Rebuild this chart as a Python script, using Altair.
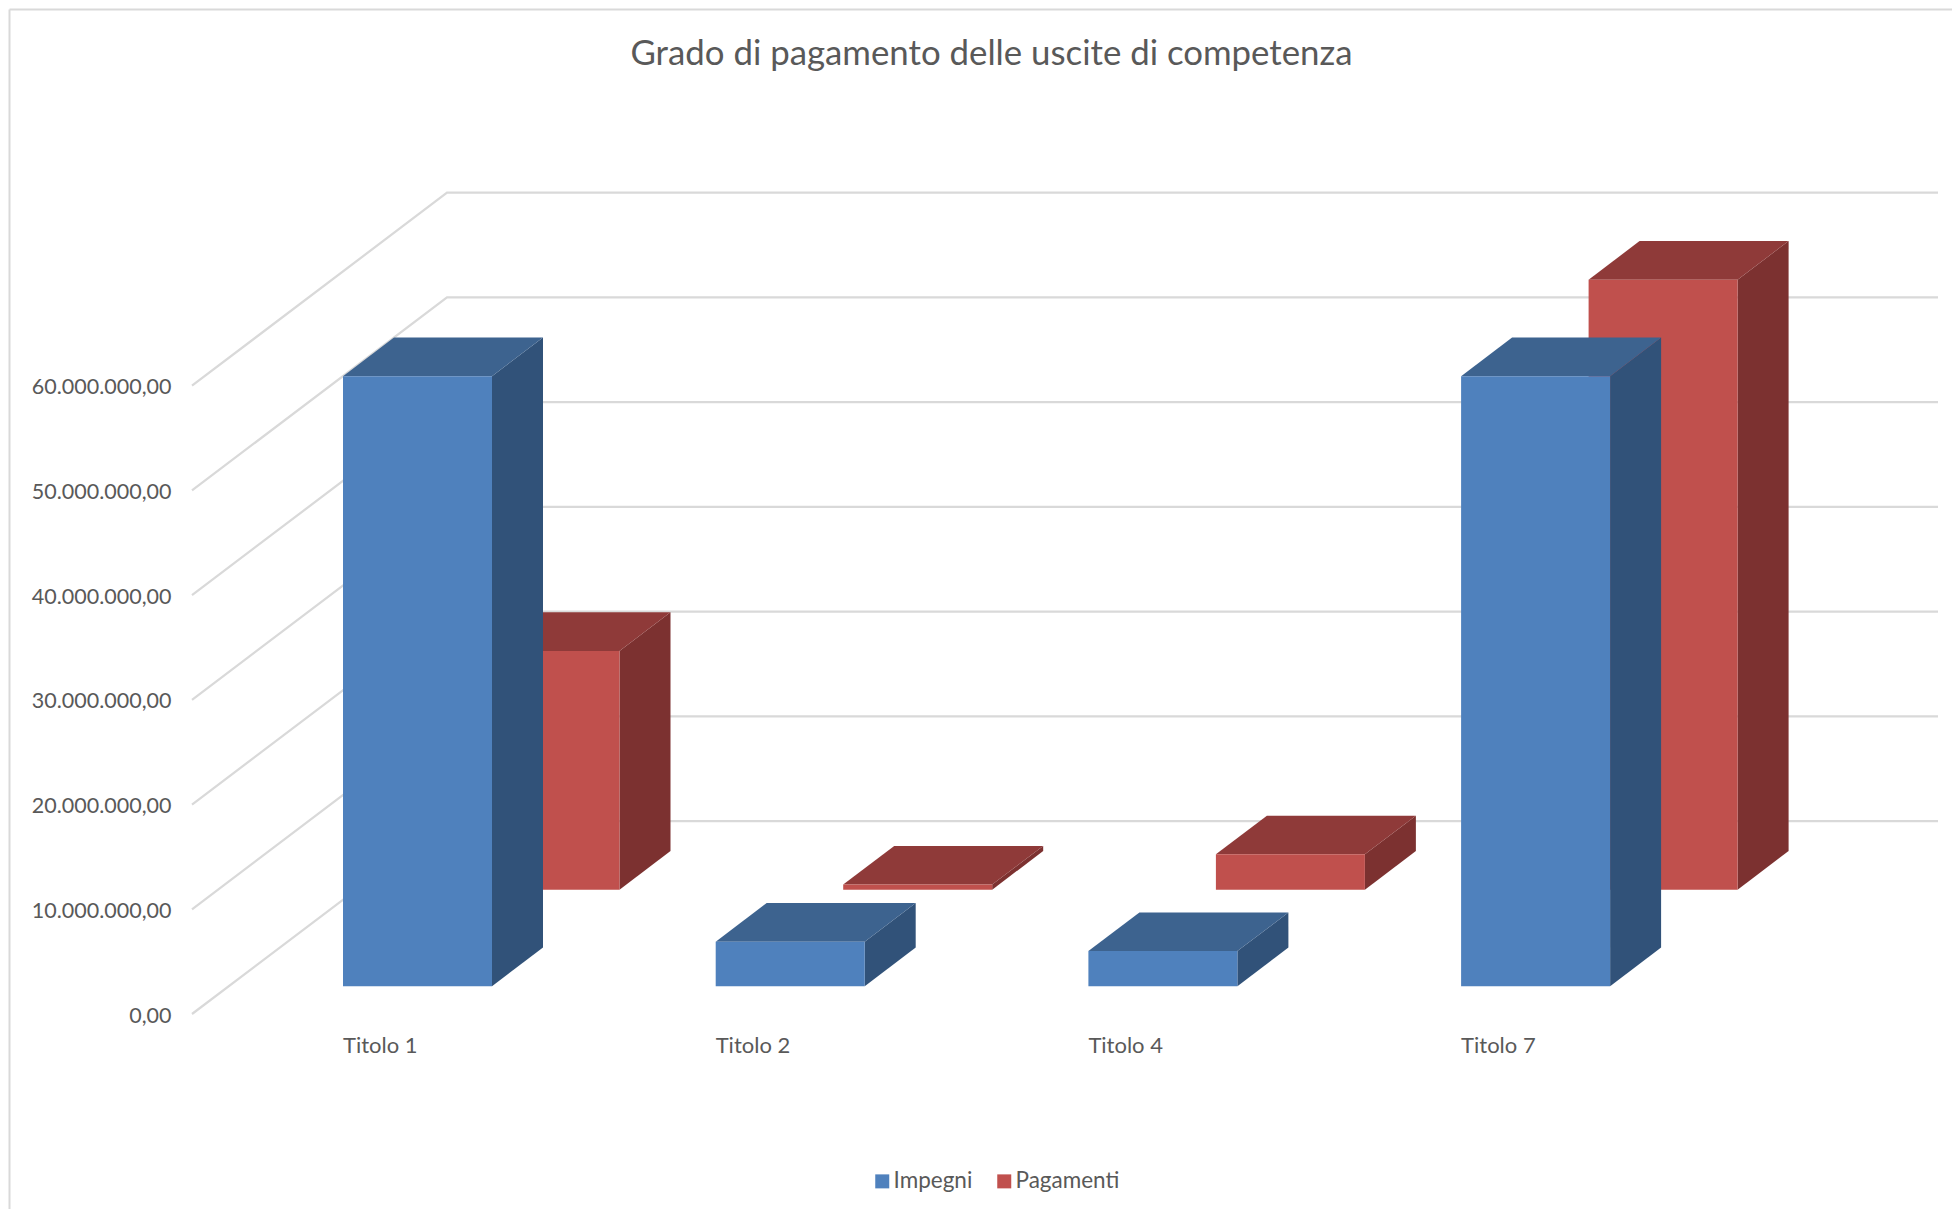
import altair as alt
import pandas as pd

categories = ["Titolo 1", "Titolo 2", "Titolo 4", "Titolo 7"]
impegni = [58250000, 4250000, 3350000, 58250000]
pagamenti = [22800000, 480000, 3370000, 58250000]
tick_values = [0, 10000000, 20000000, 30000000, 40000000, 50000000, 60000000]
title_text = "Grado di pagamento delle uscite di competenza"

FONT = "Lato"
TEXT = "#595959"
GRID = "#D9D9D9"
FRONT = {"Impegni": "#4F81BD", "Pagamenti": "#C0504D"}
TOP = {"Impegni": "#3D638F", "Pagamenti": "#8F3A39"}
SIDE = {"Impegni": "#315279", "Pagamenti": "#7C3130"}

# Oblique projection: category units across, euros up, depth 0..1 into the box
PX_CAT = 372.7
PX_10M = 104.72
DEPTH_X = 255 / PX_CAT
DEPTH_Y = 193 / PX_10M * 1e7
BAR_W = 149 / PX_CAT
BAR_D = 0.2
Z = {"Impegni": 0.15, "Pagamenti": 0.65}
BAR_DROP = 1.1 / PX_10M * 1e7

# Plot area on the page
LEFT, TOP_Y, W, H = 181, 104, 1757, 1000
ORIGIN_X, ZERO_Y = 304.75, 1014
x_dom = [(LEFT - ORIGIN_X) / PX_CAT, (LEFT + W - ORIGIN_X) / PX_CAT]
y_dom = [(ZERO_Y - (TOP_Y + H)) / PX_10M * 1e7, (ZERO_Y - TOP_Y) / PX_10M * 1e7]
xs = alt.Scale(domain=x_dom, nice=False, zero=False)
ys = alt.Scale(domain=y_dom, nice=False, zero=False)

y_axis = alt.Axis(
    title=None,
    values=tick_values,
    domain=False,
    ticks=False,
    grid=False,
    labelPadding=10,
    labelOffset=2,
    labelFont=FONT,
    labelFontSize=21.5,
    labelColor=TEXT,
    labelExpr="replace(replace(replace(format(datum.value, ',.2f'), '.', '#'), regexp(',', 'g'), '.'), '#', ',')",
)


def X(field):
    return alt.X(f"{field}:Q", scale=xs, axis=None)


def Y(field):
    return alt.Y(f"{field}:Q", scale=ys, axis=y_axis)


# Wall and floor gridlines
grid_left = (192 - ORIGIN_X) / PX_CAT
grid_rows = []
for v in tick_values:
    grid_rows += [
        {"id": v, "x": grid_left, "y": v},
        {"id": v, "x": grid_left + DEPTH_X, "y": v + DEPTH_Y},
        {"id": v, "x": x_dom[1], "y": v + DEPTH_Y},
    ]
grid = alt.Chart(pd.DataFrame(grid_rows)).mark_line(color=GRID, strokeWidth=2.25).encode(
    x=X("x"), y=Y("y"), detail="id:N"
)

layers = [grid]
color_enc = alt.Color(
    "serie:N",
    scale=alt.Scale(domain=list(FRONT), range=list(FRONT.values())),
    legend=alt.Legend(
        title=None,
        orient="none",
        legendX=690,
        legendY=1066,
        direction="horizontal",
        symbolType="square",
        symbolSize=196,
        symbolStrokeWidth=0,
        symbolOpacity=1,
        labelFont=FONT,
        labelFontSize=22.5,
        labelColor=TEXT,
        labelOffset=0,
        columnPadding=20,
        padding=0,
    ),
)

for serie, values in [("Pagamenti", pagamenti), ("Impegni", impegni)]:
    z = Z[serie]
    front, side, top = [], [], []
    for i, v in enumerate(values):
        x0 = i + z * DEPTH_X
        x1 = x0 + BAR_W
        base = z * DEPTH_Y - BAR_DROP
        front.append({"serie": serie, "x": x0, "x2": x1, "y": base, "y2": base + v})
        dx, dy = BAR_D * DEPTH_X, BAR_D * DEPTH_Y
        side += [
            {"id": i, "x": x1, "y": base, "y2": base + v},
            {"id": i, "x": x1 + dx, "y": base + dy, "y2": base + v + dy},
        ]
        top += [
            {"id": i, "y": base + v, "x": x0, "x2": x1},
            {"id": i, "y": base + v + dy, "x": x0 + dx, "x2": x1 + dx},
        ]
    layers.append(
        alt.Chart(pd.DataFrame(side)).mark_area(color=SIDE[serie]).encode(
            x=X("x"), y=Y("y"), y2="y2:Q", detail="id:N"
        )
    )
    layers.append(
        alt.Chart(pd.DataFrame(top)).mark_area(color=TOP[serie], orient="horizontal").encode(
            y=Y("y"), x=X("x"), x2="x2:Q", detail="id:N"
        )
    )
    layers.append(
        alt.Chart(pd.DataFrame(front)).mark_rect().encode(
            x=X("x"), x2="x2:Q", y=Y("y"), y2="y2:Q", color=color_enc
        )
    )

labels = pd.DataFrame(
    {"cat": categories, "x": [i + Z["Impegni"] * DEPTH_X for i in range(len(categories))]}
)
layers.append(
    alt.Chart(labels).mark_text(
        align="left", baseline="middle", font=FONT, fontSize=22, color=TEXT
    ).encode(x=X("x"), y=alt.value(1046 - TOP_Y), text="cat:N")
)

# Chart frame: top and left edges of the original chart area
layers.append(
    alt.Chart(pd.DataFrame({"a": [0]})).mark_rule(color=GRID, strokeWidth=2).encode(
        x=alt.value(9.5 - LEFT), x2=alt.value(1960 - LEFT), y=alt.value(9.5 - TOP_Y)
    )
)
layers.append(
    alt.Chart(pd.DataFrame({"a": [0]})).mark_rule(color=GRID, strokeWidth=2).encode(
        x=alt.value(9.5 - LEFT), y=alt.value(9.5 - TOP_Y), y2=alt.value(1209 - TOP_Y)
    )
)

chart = (
    alt.layer(*layers)
    .properties(
        width=W,
        height=H,
        autosize=alt.AutoSizeParams(type="none"),
        padding={"left": LEFT - 8, "top": TOP_Y - 8, "right": 1944 - (LEFT - 8) - W, "bottom": 1201 - (TOP_Y - 8) - H},
        background="white",
        title=alt.TitleParams(
            title_text,
            anchor="middle",
            dx=-68,
            offset=-64,
            font=FONT,
            fontSize=34.8,
            fontWeight="normal",
            color=TEXT,
        ),
    )
    .configure_view(strokeWidth=0)
)

chart.save("out.html", embed_options={"renderer": "svg", "actions": False})
